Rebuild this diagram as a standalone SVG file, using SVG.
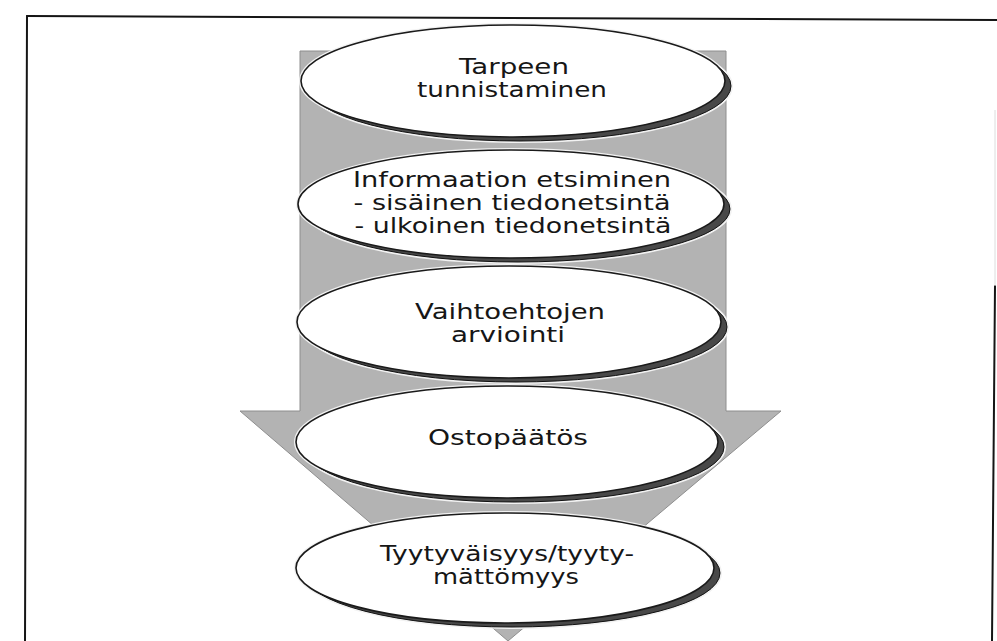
<svg xmlns="http://www.w3.org/2000/svg" width="997" height="641" viewBox="0 0 997 641">
<style>
  .frame { fill: none; stroke: #151515; stroke-width: 2; stroke-linecap: round; }
  .arrow { fill: #b3b3b3; stroke: #8e8e8e; stroke-width: 1; }
  .halo { fill: none; stroke: #f2f2f2; stroke-width: 4; }
  .shadow { fill: #484848; stroke: #111; stroke-width: 1; }
  .face { fill: #ffffff; stroke: #1a1a1a; stroke-width: 1.6; }
  .lbl { font-family: "DejaVu Sans", "Liberation Sans", sans-serif; font-size: 21.5px; fill: #161616; text-anchor: middle; }
</style>
<rect width="997" height="641" fill="#ffffff"/>
<g id="frame">
  <path class="frame" d="M27,16 L997,20"/>
  <path class="frame" d="M27,16 L25,641"/>
  <path class="frame" d="M995,286 L992,641"/>
  <path d="M995,110 L995,286" fill="none" stroke="#dcdcdc" stroke-width="1"/>
</g>
<g id="connectors">
  <path class="arrow" d="M300,51 L726,51 L726,411 L781,411 L508,641 L240,411 L300,411 Z"/>
</g>
<g id="node1">
  <ellipse class="halo" cx="520" cy="86" rx="211" ry="55"/>
  <ellipse class="halo" cx="513" cy="81" rx="212" ry="56"/>
  <ellipse class="shadow" cx="520" cy="86" rx="211" ry="55"/>
  <ellipse class="face" cx="513" cy="81" rx="212" ry="56"/>
  <text class="lbl" x="514" y="74" textLength="110" lengthAdjust="spacingAndGlyphs">Tarpeen</text>
  <text class="lbl" x="512" y="97" textLength="190" lengthAdjust="spacingAndGlyphs">tunnistaminen</text>
</g>
<g id="node2">
  <ellipse class="halo" cx="518" cy="209" rx="212" ry="53"/>
  <ellipse class="halo" cx="511" cy="204" rx="213" ry="54"/>
  <ellipse class="shadow" cx="518" cy="209" rx="212" ry="53"/>
  <ellipse class="face" cx="511" cy="204" rx="213" ry="54"/>
  <text class="lbl" x="512" y="187" textLength="318" lengthAdjust="spacingAndGlyphs">Informaation etsiminen</text>
  <text class="lbl" x="512" y="210" textLength="317" lengthAdjust="spacingAndGlyphs">- sisäinen tiedonetsintä</text>
  <text class="lbl" x="513" y="233" textLength="317" lengthAdjust="spacingAndGlyphs">- ulkoinen tiedonetsintä</text>
</g>
<g id="node3">
  <ellipse class="halo" cx="516" cy="327" rx="211" ry="55"/>
  <ellipse class="halo" cx="509" cy="322" rx="212" ry="56"/>
  <ellipse class="shadow" cx="516" cy="327" rx="211" ry="55"/>
  <ellipse class="face" cx="509" cy="322" rx="212" ry="56"/>
  <text class="lbl" x="510" y="319" textLength="190" lengthAdjust="spacingAndGlyphs">Vaihtoehtojen</text>
  <text class="lbl" x="508" y="342" textLength="114" lengthAdjust="spacingAndGlyphs">arviointi</text>
</g>
<g id="node4">
  <ellipse class="halo" cx="514" cy="447" rx="210" ry="55"/>
  <ellipse class="halo" cx="507" cy="442" rx="211" ry="56"/>
  <ellipse class="shadow" cx="514" cy="447" rx="210" ry="55"/>
  <ellipse class="face" cx="507" cy="442" rx="211" ry="56"/>
  <text class="lbl" x="508" y="445" textLength="160" lengthAdjust="spacingAndGlyphs">Ostopäätös</text>
</g>
<g id="node5">
  <ellipse class="halo" cx="512" cy="573" rx="208" ry="54"/>
  <ellipse class="halo" cx="505" cy="568" rx="209" ry="55"/>
  <ellipse class="shadow" cx="512" cy="573" rx="208" ry="54"/>
  <ellipse class="face" cx="505" cy="568" rx="209" ry="55"/>
  <text class="lbl" x="507" y="561" textLength="254" lengthAdjust="spacingAndGlyphs">Tyytyväisyys/tyyty-</text>
  <text class="lbl" x="506" y="584" textLength="146" lengthAdjust="spacingAndGlyphs">mättömyys</text>
</g>
</svg>
